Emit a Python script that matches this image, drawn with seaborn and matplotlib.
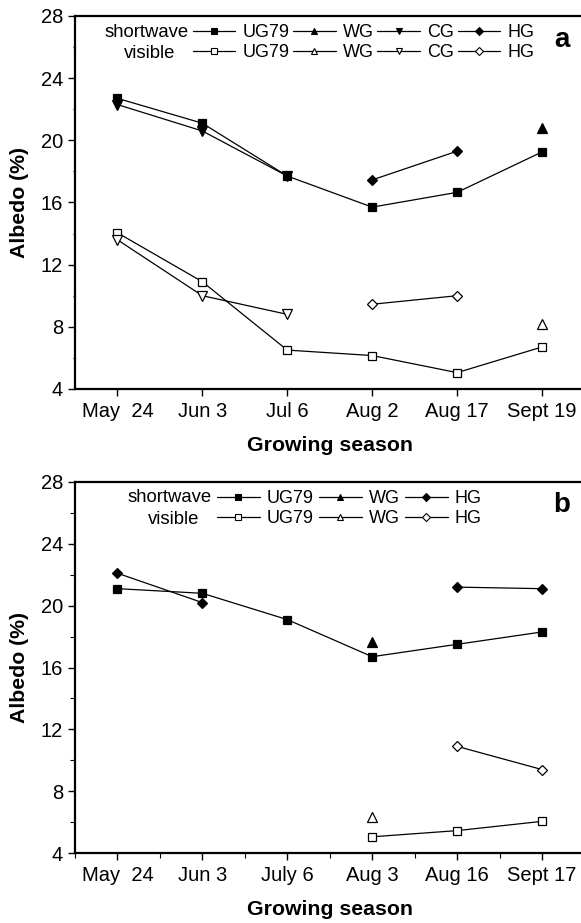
import numpy as np
import pandas as pd
import matplotlib
matplotlib.use("Agg")
import matplotlib.pyplot as plt
import seaborn as sns
from matplotlib.lines import Line2D
from matplotlib.ticker import MultipleLocator

nan = np.nan

# ---------------- data ----------------
dates_a = ["May  24", "Jun 3", "Jul 6", "Aug 2", "Aug 17", "Sept 19"]
dates_b = ["May  24", "Jun 3", "July 6", "Aug 3", "Aug 16", "Sept 17"]

sw_ug79_a = [22.7, 21.1, 17.7, 15.7, 16.65, 19.25]
sw_wg_a = [nan, nan, nan, nan, nan, 20.8]
sw_cg_a = [22.3, 20.6, 17.7, nan, nan, nan]
sw_hg_a = [nan, nan, nan, 17.45, 19.3, nan]
vis_ug79_a = [14.05, 10.9, 6.5, 6.15, 5.05, 6.7]
vis_wg_a = [nan, nan, nan, nan, nan, 8.15]
vis_cg_a = [13.6, 10.0, 8.8, nan, nan, nan]
vis_hg_a = [nan, nan, nan, 9.45, 10.0, nan]

sw_ug79_b = [21.1, 20.8, 19.1, 16.7, 17.5, 18.3]
sw_wg_b = [nan, nan, nan, 17.65, nan, nan]
sw_hg_b = [22.1, 20.2, nan, nan, 21.2, 21.1]
vis_ug79_b = [nan, nan, nan, 5.05, 5.45, 6.05]
vis_wg_b = [nan, nan, nan, 6.35, nan, nan]
vis_hg_b = [nan, nan, nan, nan, 10.9, 9.4]

groups_a = ["UG79", "WG", "CG", "HG"]
groups_b = ["UG79", "WG", "HG"]
markers = {"UG79": "s", "WG": "^", "CG": "v", "HG": "D"}
msize = {"UG79": 5.5, "WG": 6.5, "CG": 6.5, "HG": 5.0}

sns.set_theme(style="ticks")
plt.rcParams["font.family"] = ["Liberation Sans", "DejaVu Sans"]
plt.rcParams["axes.linewidth"] = 1.6
for k in ["text.color", "axes.labelcolor", "xtick.color", "ytick.color",
          "axes.edgecolor", "legend.labelcolor"]:
    plt.rcParams[k] = "black"

fig = plt.figure(figsize=(5.81, 9.23), dpi=100)
ax_a = fig.add_axes([0.129, 0.5786, 0.877, 0.4041])
ax_b = fig.add_axes([0.129, 0.0758, 0.877, 0.402])


def draw(ax, vals, marker, size, filled):
    df = pd.DataFrame({"x": np.arange(len(vals)), "y": vals})
    df["seg"] = df["y"].isna().cumsum()
    df = df.dropna()
    sns.lineplot(data=df, x="x", y="y", units="seg", estimator=None, sort=False,
                 color="black", lw=0.9, marker=marker, markersize=size,
                 markerfacecolor="black" if filled else "white",
                 markeredgecolor="black", markeredgewidth=0.9,
                 legend=False, ax=ax)


def style(ax, dates, panel_minor_x, minor_len):
    ax.set_xlim(-0.5, 5.5)
    ax.set_ylim(4, 28)
    ax.set_xticks(range(len(dates)))
    ax.set_xticklabels(dates)
    ax.yaxis.set_major_locator(MultipleLocator(4))
    ax.yaxis.set_minor_locator(MultipleLocator(2))
    if panel_minor_x:
        ax.xaxis.set_minor_locator(MultipleLocator(0.5))
    ax.tick_params(axis="both", which="major", direction="out", length=5,
                   width=1.0, labelsize=14.5, pad=4.5, color="black",
                   labelcolor="black")
    ax.tick_params(axis="y", which="major", pad=3.5)
    ax.tick_params(axis="both", which="minor", direction="out", length=minor_len,
                   width=0.8, color="black")
    ax.spines["right"].set_visible(False)
    for s in ["top", "left", "bottom"]:
        ax.spines[s].set_color("black")
    ax.set_xlabel("Growing season", fontsize=15.3, fontweight="bold", color="black")
    ax.set_ylabel("Albedo (%)", fontsize=15.3, fontweight="bold", color="black")
    ax.xaxis.set_label_coords(0.5, -0.127)
    ax.yaxis.set_label_coords(-0.090, 0.5)


def legend(ax, groups, x0, yc, sw_pos, vis_pos, colsp):
    handles, labels = [], []
    for g in groups:
        for filled in (True, False):
            handles.append(Line2D([], [], color="black", lw=0.9, marker=markers[g],
                                  markersize=4.2,
                                  markerfacecolor="black" if filled else "white",
                                  markeredgecolor="black", markeredgewidth=0.8))
            labels.append(g)
    ax.legend(handles, labels, ncol=len(groups), loc="center left",
              bbox_to_anchor=(x0, yc), frameon=False, fontsize=13,
              handlelength=2.35, handletextpad=0.4, columnspacing=colsp,
              labelspacing=0.15, borderpad=0, borderaxespad=0,
              labelcolor="black")
    ax.text(sw_pos[0], sw_pos[1], "shortwave", transform=ax.transAxes,
            ha="right", va="center", fontsize=13.3, color="black")
    ax.text(vis_pos[0], vis_pos[1], "visible", transform=ax.transAxes,
            ha="right", va="center", fontsize=13.3, color="black")


# panel a
series_a = {("UG79", True): sw_ug79_a, ("WG", True): sw_wg_a,
            ("CG", True): sw_cg_a, ("HG", True): sw_hg_a,
            ("UG79", False): vis_ug79_a, ("WG", False): vis_wg_a,
            ("CG", False): vis_cg_a, ("HG", False): vis_hg_a}
for (g, filled), vals in series_a.items():
    draw(ax_a, vals, markers[g], msize[g], filled)
style(ax_a, dates_a, False, 1.5)
legend(ax_a, groups_a, 0.2316, 0.928, (0.2237, 0.956), (0.196, 0.900), 0.2)
ax_a.text(0.956, 0.936, "a", transform=ax_a.transAxes, ha="center", va="center",
          fontsize=20, fontweight="bold", color="black")

# panel b
series_b = {("UG79", True): sw_ug79_b, ("WG", True): sw_wg_b,
            ("HG", True): sw_hg_b,
            ("UG79", False): vis_ug79_b, ("WG", False): vis_wg_b,
            ("HG", False): vis_hg_b}
for (g, filled), vals in series_b.items():
    draw(ax_b, vals, markers[g], msize[g], filled)
style(ax_b, dates_b, True, 3.5)
legend(ax_b, groups_b, 0.279, 0.9286, (0.269, 0.957), (0.245, 0.900), 0.3)
ax_b.text(0.956, 0.938, "b", transform=ax_b.transAxes, ha="center", va="center",
          fontsize=20, fontweight="bold", color="black")

fig.savefig("out.png", dpi=100)
